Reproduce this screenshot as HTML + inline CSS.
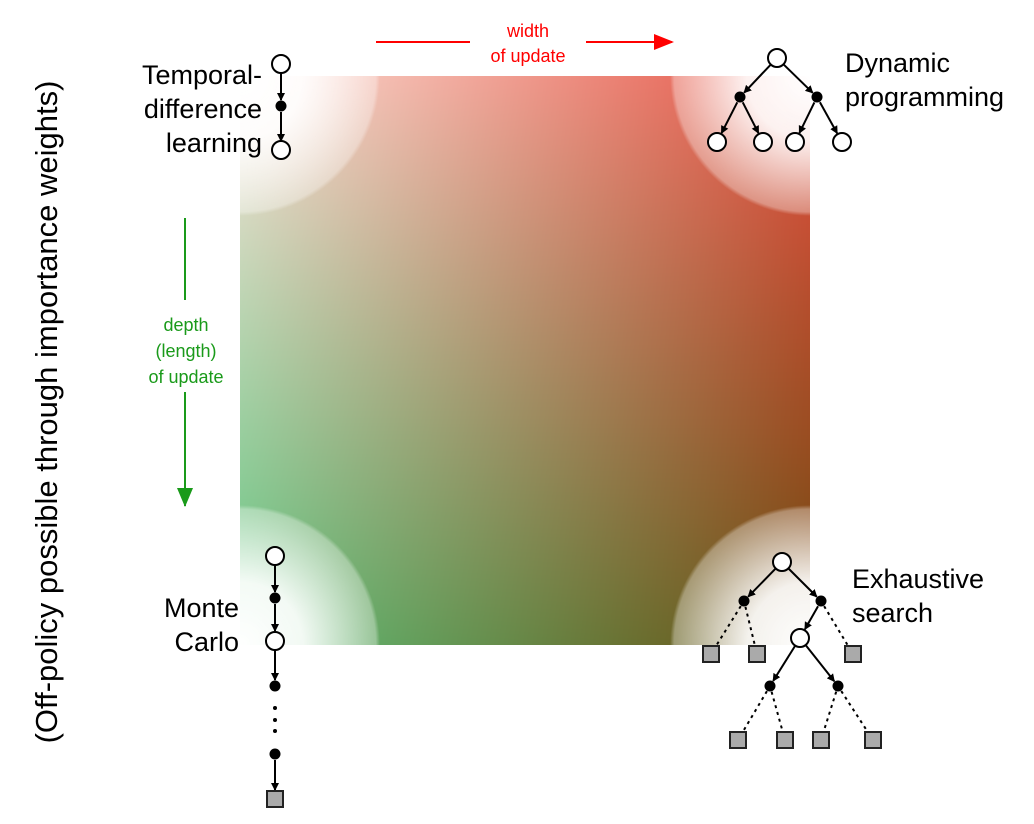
<!DOCTYPE html>
<html><head><meta charset="utf-8"><style>
html,body{margin:0;padding:0;background:#fff;}
#wrap{position:relative;width:1034px;height:824px;overflow:hidden;font-family:"Liberation Sans",sans-serif;}
#grad{position:absolute;left:240px;top:76px;}
#svg{position:absolute;left:0;top:0;}
</style></head><body>
<div id="wrap">
<canvas id="grad" width="570" height="569"></canvas>
<svg id="svg" width="1034" height="824">
<defs>
<radialGradient id="wg" cx="0.5" cy="0.5" r="0.5">
<stop offset="0" stop-color="#fff" stop-opacity="1"/>
<stop offset="0.45" stop-color="#fff" stop-opacity="0.92"/>
<stop offset="0.97" stop-color="#fff" stop-opacity="0.35"/>
<stop offset="1" stop-color="#fff" stop-opacity="0"/>
</radialGradient>
<clipPath id="sq"><rect x="240" y="76" width="570" height="569"/></clipPath>
<clipPath id="pg"><rect x="0" y="0" width="1003" height="824"/></clipPath>
<marker id="ab" markerWidth="8" markerHeight="8" refX="7" refY="4" orient="auto" markerUnits="userSpaceOnUse"><path d="M0,0 L8,4 L0,8 z" fill="#000"/></marker>
<marker id="ar" markerWidth="20" markerHeight="16" refX="18" refY="8" orient="auto" markerUnits="userSpaceOnUse"><path d="M0,0 L20,8 L0,16 z" fill="#f00"/></marker>
</defs>
<g clip-path="url(#sq)">
<circle cx="240" cy="76" r="140" fill="url(#wg)"/>
<circle cx="810" cy="76" r="140" fill="url(#wg)"/>
<circle cx="240" cy="645" r="140" fill="url(#wg)"/>
<circle cx="810" cy="645" r="140" fill="url(#wg)"/>
</g>
<text x="57" y="412" font-size="31" fill="#000" text-anchor="middle" transform="rotate(-90 57 412)">(Off-policy possible through importance weights)</text>
<g>
<line x1="376" y1="42" x2="470" y2="42" stroke="#f00" stroke-width="2"/>
<line x1="586" y1="42" x2="672" y2="42" stroke="#f00" stroke-width="2" marker-end="url(#ar)"/>
<text x="528" y="37" font-size="18" fill="#f00" text-anchor="middle">width</text>
<text x="528" y="62" font-size="18" fill="#f00" text-anchor="middle">of update</text>
</g>
<g>
<line x1="185" y1="218" x2="185" y2="300" stroke="#1a9a1a" stroke-width="2"/>
<line x1="185" y1="392" x2="185" y2="506" stroke="#1a9a1a" stroke-width="2"/>
<path d="M177,488 L193,488 L185,507 z" fill="#1a9a1a"/>
<text x="186" y="331" font-size="18" fill="#1a9a1a" text-anchor="middle">depth</text>
<text x="186" y="357" font-size="18" fill="#1a9a1a" text-anchor="middle">(length)</text>
<text x="186" y="383" font-size="18" fill="#1a9a1a" text-anchor="middle">of update</text>
</g>
<g font-size="27" fill="#000">
<text x="262" y="84" text-anchor="end">Temporal-</text>
<text x="262" y="118" text-anchor="end">difference</text>
<text x="262" y="152" text-anchor="end">learning</text>
<text x="845" y="72" clip-path="url(#pg)">Dynamic</text>
<text x="845" y="106" clip-path="url(#pg)">programming</text>
<text x="239" y="617" text-anchor="end">Monte</text>
<text x="239" y="651" text-anchor="end">Carlo</text>
<text x="852" y="588">Exhaustive</text>
<text x="852" y="622">search</text>
</g>
<g id="trees"></g>
</svg>
</div>
<script>
const c=document.getElementById('grad').getContext('2d');
const W=570,H=569;
const TL=[250,225,215],TR=[228,80,65],BL=[95,195,125],BR=[110,75,15];
const img=c.createImageData(W,H);
for(let y=0;y<H;y++){const v=y/(H-1);for(let x=0;x<W;x++){const u=x/(W-1);const i=(y*W+x)*4;
for(let k=0;k<3;k++){img.data[i+k]=(1-u)*(1-v)*TL[k]+u*(1-v)*TR[k]+(1-u)*v*BL[k]+u*v*BR[k];}
img.data[i+3]=255;}}
c.putImageData(img,0,0);

const NS='http://www.w3.org/2000/svg';
const g=document.getElementById('trees');
function mk(tag,a){const e=document.createElementNS(NS,tag);for(const k in a)e.setAttribute(k,a[k]);g.appendChild(e);return e;}
function edge(p,q,rp,rq,dashed){const dx=q[0]-p[0],dy=q[1]-p[1],L=Math.hypot(dx,dy);
const e=mk('line',{x1:p[0]+dx/L*rp,y1:p[1]+dy/L*rp,x2:q[0]-dx/L*rq,y2:q[1]-dy/L*rq,stroke:'#000','stroke-width':2});
if(dashed){e.setAttribute('stroke-dasharray','3,4');}else{e.setAttribute('marker-end','url(#ab)');}

}
function open(p){const e=mk('circle',{cx:p[0],cy:p[1],r:9,fill:'#fff',stroke:'#000','stroke-width':2});

}
function fill(p){const e=mk('circle',{cx:p[0],cy:p[1],r:5.5,fill:'#000'});

}
function term(p){const e=mk('rect',{x:p[0]-8,y:p[1]-8,width:16,height:16,fill:'#aaa',stroke:'#222','stroke-width':2});

}
let a=[281,64],b=[281,106],d=[281,150];
edge(a,b,9,6);edge(b,d,6,9);open(a);fill(b);open(d);
const r=[777,58],l1=[740,97],r1=[817,97],lv=[[717,142],[763,142],[795,142],[842,142]];
edge(r,l1,9,6);edge(r,r1,9,6);edge(l1,lv[0],6,10);edge(l1,lv[1],6,10);edge(r1,lv[2],6,10);edge(r1,lv[3],6,10);
open(r);fill(l1);fill(r1);lv.forEach(open);
const mc=[[275,556,'o'],[275,598,'f'],[275,641,'o'],[275,686,'f']];
for(let i=0;i<3;i++)edge(mc[i],mc[i+1],mc[i][2]=='o'?9:6,mc[i+1][2]=='o'?10:6);
mc.forEach(p=>p[2]=='o'?open(p):fill(p));
[708,720,731].forEach(y=>{const e=mk('circle',{cx:275,cy:y,r:2,fill:'#000'});});
const f5=[275,754],sq=[275,799];edge(f5,sq,6,9);fill(f5);term(sq);
const er=[782,562],ea=[744,601],eb=[821,601],eo=[800,638],ec=[770,686],ed=[838,686];
const s1=[[711,654],[757,654]],s2=[853,654],s3=[[738,740],[785,740]],s4=[[821,740],[873,740]];
edge(er,ea,9,6);edge(er,eb,9,6);edge(eb,eo,6,10);edge(eo,ec,9,6);edge(eo,ed,9,6);
s1.forEach(s=>edge(ea,s,6,9,true));edge(eb,s2,6,9,true);
s3.forEach(s=>edge(ec,s,6,9,true));s4.forEach(s=>edge(ed,s,6,9,true));
open(er);fill(ea);fill(eb);open(eo);fill(ec);fill(ed);
s1.forEach(term);term(s2);s3.forEach(term);s4.forEach(term);
</script>
</body></html>
